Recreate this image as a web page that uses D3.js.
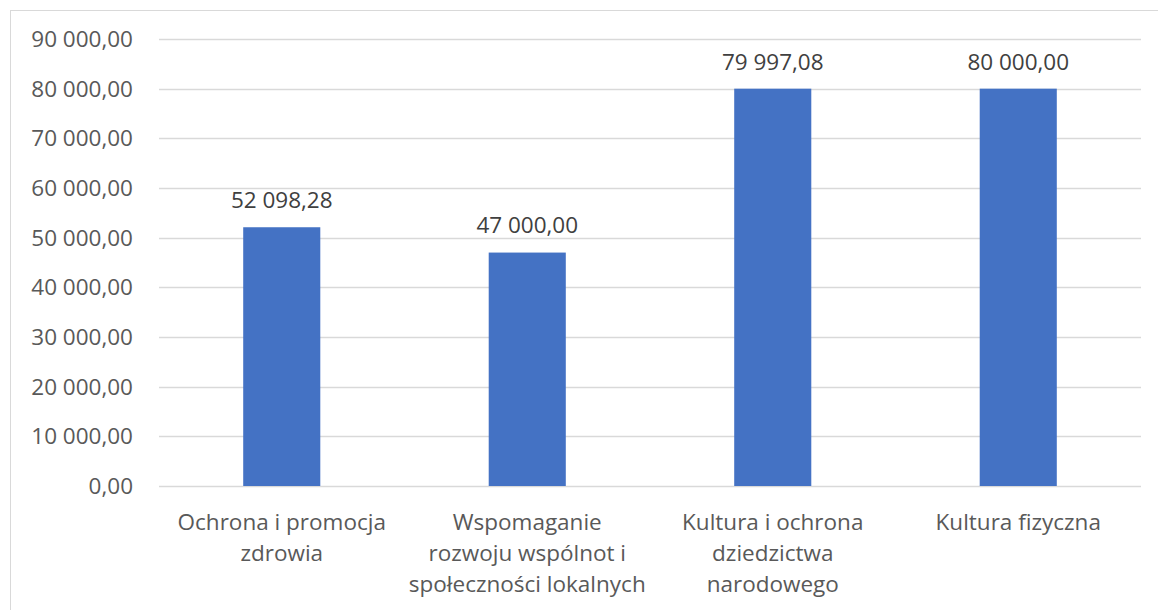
<!DOCTYPE html>
<html>
<head>
<meta charset="utf-8">
<script src="https://cdn.jsdelivr.net/npm/d3@7"></script>
<style>
  body { margin: 0; background: #fff; }
  svg text { font-family: "Open Sans", "Noto Sans", sans-serif; }
</style>
</head>
<body>
<svg id="chart" width="1158" height="610"></svg>
<script>
// data
var categories = [
  "Ochrona i promocja zdrowia",
  "Wspomaganie rozwoju wspólnot i społeczności lokalnych",
  "Kultura i ochrona dziedzictwa narodowego",
  "Kultura fizyczna"
];
var categoryLines = [
  ["Ochrona i promocja", "zdrowia"],
  ["Wspomaganie", "rozwoju wspólnot i", "społeczności lokalnych"],
  ["Kultura i ochrona", "dziedzictwa", "narodowego"],
  ["Kultura fizyczna"]
];
var values = [52098.28, 47000.00, 79997.08, 80000.00];
var yTicks = [0, 10000, 20000, 30000, 40000, 50000, 60000, 70000, 80000, 90000];

var svg = d3.select("#chart");
var fontSize = "22.5px";

// chart border (cut at right/bottom like the original)
svg.append("rect")
    .attr("x", 10.5).attr("y", 10.5)
    .attr("width", 1160).attr("height", 620)
    .attr("fill", "none")
    .attr("stroke", "#d9d9d9");

var plotLeft = 159, plotRight = 1141, plotTop = 39, plotBottom = 486;

var x = d3.scaleBand()
    .domain(categories)
    .range([plotLeft, plotRight])
    .paddingInner(0.686)
    .paddingOuter(0.343);

var y = d3.scaleLinear()
    .domain([0, 90000])
    .range([plotBottom, plotTop]);

// format like "52 098,28"
function fmt(v) {
    var s = d3.format(",.2f")(v);
    return s.replace(/,/g, " ").replace(".", ",");
}

// gridlines
svg.append("g")
    .selectAll("line")
    .data(yTicks)
    .join("line")
    .attr("x1", plotLeft).attr("x2", plotRight)
    .attr("y1", d => Math.round(y(d)) + 0.5)
    .attr("y2", d => Math.round(y(d)) + 0.5)
    .attr("stroke", "#d9d9d9")
    .attr("stroke-width", 1.3);

// y axis labels
svg.append("g")
    .selectAll("text")
    .data(yTicks)
    .join("text")
    .attr("x", 133)
    .attr("y", d => y(d))
    .attr("dy", "0.35em")
    .attr("text-anchor", "end")
    .style("font-size", fontSize)
    .style("fill", "#595959")
    .text(d => fmt(d));

// bars
svg.append("g")
    .selectAll("rect")
    .data(values)
    .join("rect")
    .attr("x", (d, i) => x(categories[i]))
    .attr("width", x.bandwidth())
    .attr("y", d => y(d))
    .attr("height", d => plotBottom - y(d))
    .attr("fill", "#4472c4");

// value labels
svg.append("g")
    .selectAll("text")
    .data(values)
    .join("text")
    .attr("x", (d, i) => x(categories[i]) + x.bandwidth() / 2)
    .attr("y", d => y(d) - 27)
    .attr("dy", "0.35em")
    .attr("text-anchor", "middle")
    .style("font-size", fontSize)
    .style("fill", "#404040")
    .text(d => fmt(d));

// category labels
var cat = svg.append("g")
    .selectAll("text")
    .data(categories)
    .join("text")
    .attr("x", d => x(d) + x.bandwidth() / 2)
    .attr("y", 522)
    .attr("text-anchor", "middle")
    .style("font-size", fontSize)
    .style("fill", "#595959");

cat.each(function(d, i) {
    var t = d3.select(this);
    categoryLines[i].forEach(function(line, j) {
        t.append("tspan")
            .attr("x", x(d) + x.bandwidth() / 2)
            .attr("y", 522 + j * 31)
            .attr("dy", "0.35em")
            .text(line);
    });
});
</script>
</body>
</html>
